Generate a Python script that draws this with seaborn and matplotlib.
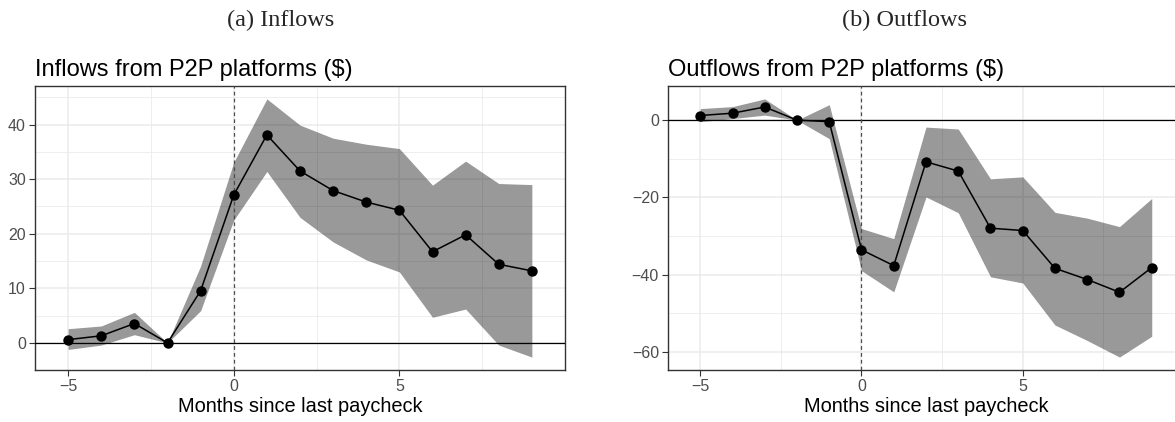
import numpy as np
import pandas as pd
import matplotlib
matplotlib.use("Agg")
import matplotlib.pyplot as plt
import seaborn as sns
from matplotlib.ticker import MultipleLocator, FixedLocator

months = [-5, -4, -3, -2, -1, 0, 1, 2, 3, 4, 5, 6, 7, 8, 9]

inflow_est = [0.6, 1.3, 3.55, 0.0, 9.55, 27.1, 38.1, 31.5, 27.9, 25.8, 24.3, 16.7, 19.8, 14.4, 13.2]
inflow_hi = [2.6, 3.1, 5.6, 0.0, 14.1, 33.1, 44.7, 39.9, 37.5, 36.4, 35.6, 28.9, 33.3, 29.2, 29.0]
inflow_lo = [-1.2, -0.4, 1.5, 0.0, 5.9, 22.5, 31.4, 23.0, 18.5, 15.2, 13.0, 4.7, 6.2, -0.4, -2.6]

outflow_est = [1.2, 1.8, 3.4, 0.0, -0.4, -33.6, -37.7, -10.8, -13.2, -28.0, -28.6, -38.4, -41.3, -44.6, -38.2]
outflow_hi = [3.0, 3.5, 5.5, 0.0, 4.0, -28.1, -30.7, -1.8, -2.3, -15.2, -14.7, -23.9, -25.4, -27.6, -20.3]
outflow_lo = [-0.4, 0.4, 1.3, 0.0, -4.8, -39.0, -44.5, -19.9, -24.0, -40.6, -42.2, -53.1, -57.1, -61.4, -56.0]

x_ticks = [-5, 0, 5]
x_minor = [-2.5, 2.5, 7.5]
titles = ["Inflows from P2P platforms ($)", "Outflows from P2P platforms ($)"]
subcaptions = ["(a) Inflows", "(b) Outflows"]
xlabel = "Months since last paycheck"

sns.set_style("white")
plt.rcParams["font.family"] = ["Liberation Sans", "DejaVu Sans"]

W, H = 1175, 422
fig = plt.figure(figsize=(W / 100, H / 100), dpi=100)


def px_axes(left, right, top, bottom):
    return fig.add_axes([left / W, (H - bottom) / H, (right - left) / W, (bottom - top) / H])


ax1 = px_axes(35, 565, 86, 370)
ax2 = px_axes(668, 1184, 86, 370)

panels = [
    (ax1, inflow_est, inflow_lo, inflow_hi, 10, 5),
    (ax2, outflow_est, outflow_lo, outflow_hi, 20, 10),
]

for i, (ax, est, lo, hi, major, minor) in enumerate(panels):
    df = pd.DataFrame({"month": months, "est": est, "lo": lo, "hi": hi})
    ax.fill_between(df["month"], df["lo"], df["hi"], color="black", alpha=0.4,
                    linewidth=0, zorder=2)
    ax.axhline(0, color="black", lw=0.9, zorder=3)
    ax.axvline(0, color="#4D4D4D", lw=0.9, ls=(0, (3, 2.5)), zorder=3)
    sns.lineplot(data=df, x="month", y="est", color="black", lw=1.1, marker="o",
                 markersize=7.5, markeredgewidth=0, ax=ax, zorder=4)

    ymin, ymax = min(lo), max(hi)
    pad = 0.05 * (ymax - ymin)
    ax.set_ylim(ymin - pad, ymax + pad)
    ax.set_xlim(-6, 10)

    ax.xaxis.set_major_locator(FixedLocator(x_ticks))
    ax.xaxis.set_minor_locator(FixedLocator(x_minor))
    ax.yaxis.set_major_locator(MultipleLocator(major))
    ax.yaxis.set_minor_locator(MultipleLocator(minor))
    ax.grid(True, which="major", color="#EBEBEB", lw=1.1, zorder=0)
    ax.grid(True, which="minor", color="#EBEBEB", lw=0.6, zorder=0)
    ax.set_axisbelow(True)

    ax.tick_params(axis="both", which="major", direction="out", length=4, width=0.8,
                   color="#333333", labelcolor="#4D4D4D", labelsize=11.5, pad=2.5,
                   bottom=True, left=True)
    ax.tick_params(axis="both", which="minor", length=0)
    for sp in ax.spines.values():
        sp.set_visible(True)
        sp.set_color("#333333")
        sp.set_linewidth(1.0)

    ax.set_xlabel(xlabel, fontsize=14.4, color="black", labelpad=2)
    ax.set_ylabel("")
    ax.set_title(titles[i], loc="left", fontsize=17, color="black", pad=7)

fig.text(281 / W, 1 - 20 / H, subcaptions[0], ha="center", va="center",
         fontsize=17.5, family=["Liberation Serif", "DejaVu Serif"])
fig.text(905 / W, 1 - 20 / H, subcaptions[1], ha="center", va="center",
         fontsize=17.5, family=["Liberation Serif", "DejaVu Serif"])

fig.savefig("out.png", dpi=100)
